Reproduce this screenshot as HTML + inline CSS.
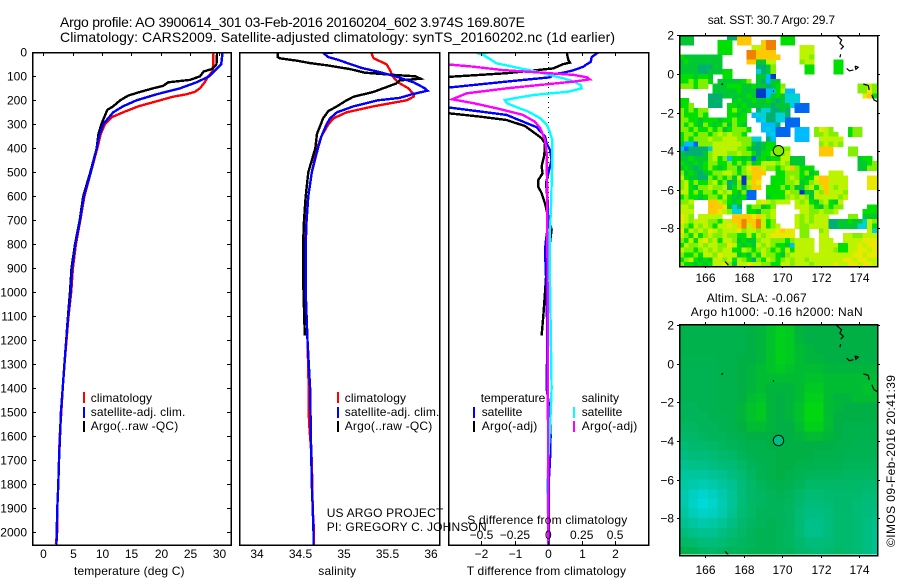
<!DOCTYPE html>
<html lang="en">
<head>
<meta charset="utf-8">
<title>Argo profile 3900614_301</title>
<style>
html,body{margin:0;padding:0;background:#fff;}
#chart{display:block;width:900px;height:580px;}
text{font-family:"Liberation Sans",sans-serif;font-size:12px;fill:#000;}
.title{font-size:14px;}
.box{fill:none;stroke:#000;stroke-width:1.5;shape-rendering:crispEdges;}
.tick{stroke:#000;stroke-width:1.2;shape-rendering:crispEdges;}
.prof{fill:none;stroke-width:2.4;stroke-linejoin:miter;shape-rendering:crispEdges;}
</style>
</head>
<body>
<svg id="chart" xmlns="http://www.w3.org/2000/svg" width="900" height="580" viewBox="0 0 900 580">
  <defs>
    <clipPath id="clipTemp"><rect x="32" y="52" width="199" height="493"/></clipPath>
    <clipPath id="clipSal"><rect x="239.5" y="52" width="200" height="493"/></clipPath>
    <clipPath id="clipDiff"><rect x="448.5" y="52" width="200" height="493"/></clipPath>
    <clipPath id="clipSst"><rect x="679" y="35" width="198.5" height="231"/></clipPath>
    <clipPath id="clipSla"><rect x="679" y="325" width="198.5" height="229.5"/></clipPath>
  </defs>

  <text class="title" x="60" y="27" textLength="465">Argo profile: AO 3900614_301 03-Feb-2016 20160204_602 3.974S 169.807E</text>
  <text class="title" x="60" y="42" textLength="555">Climatology: CARS2009. Satellite-adjusted climatology: synTS_20160202.nc (1d earlier)</text>

  <g id="plots"></g>

  <rect class="box" x="32.5" y="52.5" width="198.5" height="492.5"/>
  <rect class="box" x="239.5" y="52.5" width="200" height="492.5"/>
  <rect class="box" x="448.5" y="52.5" width="200" height="492.5"/>
  <rect class="box" x="679.5" y="35.5" width="198" height="231"/>
  <rect class="box" x="679.5" y="324.5" width="198" height="231"/>

  <g id="ticks"></g>

  <text x="74" y="575" textLength="110.5">temperature (deg C)</text>
  <text x="318.3" y="575" textLength="37.7">salinity</text>
  <text x="466.7" y="575" textLength="159.3">T difference from climatology</text>
  <text x="467.3" y="524" textLength="160">S difference from climatology</text>

  <g>
    <rect x="83" y="392" width="2" height="11" fill="#ff0000"/>
    <rect x="83" y="407" width="2" height="11" fill="#0000ff"/>
    <rect x="83" y="421" width="2" height="11" fill="#000000"/>
    <text x="90.7" y="402" textLength="61.3">climatology</text>
    <text x="90.7" y="416" textLength="94.6">satellite-adj. clim.</text>
    <text x="90.7" y="430" textLength="87.6">Argo(..raw -QC)</text>
  </g>
  <g>
    <rect x="337" y="392" width="2" height="11" fill="#ff0000"/>
    <rect x="337" y="407" width="2" height="11" fill="#0000ff"/>
    <rect x="337" y="421" width="2" height="11" fill="#000000"/>
    <text x="344.7" y="402" textLength="61.3">climatology</text>
    <text x="344.7" y="416" textLength="94.6">satellite-adj. clim.</text>
    <text x="344.7" y="430" textLength="87.6">Argo(..raw -QC)</text>
  </g>
  <g>
    <text x="480.7" y="402" textLength="64.6">temperature</text>
    <text x="581.7" y="402" textLength="37.3">salinity</text>
    <rect x="473" y="407" width="2" height="11" fill="#0000ff"/>
    <rect x="473" y="421" width="2" height="11" fill="#000000"/>
    <rect x="573" y="407" width="2" height="11" fill="#00ffff"/>
    <rect x="573" y="421" width="2" height="11" fill="#ff00ff"/>
    <text x="481.7" y="416" textLength="40.6">satellite</text>
    <text x="481.7" y="430" textLength="55.6">Argo(-adj)</text>
    <text x="581.7" y="416" textLength="40.6">satellite</text>
    <text x="581.7" y="430" textLength="55.6">Argo(-adj)</text>
  </g>

  <text x="326.7" y="517" textLength="116.6">US ARGO PROJECT</text>
  <text x="326.7" y="531" textLength="160">PI: GREGORY C. JOHNSON</text>

  <text x="707.7" y="24" textLength="127.3">sat. SST: 30.7  Argo: 29.7</text>
  <text x="706.7" y="302" textLength="100">Altim. SLA: -0.067</text>
  <text x="690.7" y="316" textLength="172">Argo h1000: -0.16 h2000: NaN</text>
  <text transform="translate(895,547) rotate(-90)" textLength="172">©IMOS 09-Feb-2016 20:41:39</text>
</svg>

<script>
// ---------- profile data ----------
const deepDepths = [500,600,700,800,900,1000,1100,1200,1300,1400,1500,1600,1700,1800,1900,2000,2050];

const tempClimDepths = [0,50,80,100,125,150,165,175,185,200,225,250,270,300,340,400];
const tempClimValues = [29.0,28.95,28.8,28.1,27.5,26.7,25.8,24.4,22.1,19.9,16.2,13.6,11.7,10.5,9.8,9.2];
const tempClimDeep = [8.1,7.0,6.3,5.55,5.05,4.75,4.3,3.95,3.62,3.3,3.07,2.8,2.68,2.56,2.39,2.35,2.15];

const tempSatDepths = [0,50,100,125,150,175,200,225,250,300,350,400];
const tempSatValues = [30.55,30.3,28.3,26.1,23.3,19.3,15.9,13.6,11.9,10.2,9.5,9.1];
const tempSatDeep = [8.1,6.9,6.25,5.45,4.9,4.67,4.25,3.9,3.6,3.3,3.0,2.85,2.68,2.56,2.39,2.28,2.25];

const tempArgoDepths = [0,50,70,80,100,115,125,140,150,165,180,200,225,240,275,300,340,400,500,600,700,800,900,1000,1100,1180];
const tempArgoValues = [29.6,29.5,28.7,27.3,26.7,25,21.3,20.4,18.7,16.5,14.5,13.1,11.9,10.9,10.3,9.9,9.4,9.1,8.0,6.8,6.2,5.4,4.8,4.55,4.2,3.95];

const salClimDepths = [0,25,50,75,100,125,150,175,185,200,225,250,275,300,350,400,500,600,700,800,1000,1200,1400,1500,1550,1700,1900,2000,2050];
const salClimValues = [35.31,35.34,35.49,35.53,35.56,35.62,35.74,35.8,35.8,35.72,35.34,35.03,34.88,34.82,34.74,34.69,34.63,34.59,34.56,34.56,34.56,34.58,34.594,34.594,34.6,34.63,34.64,34.655,34.655];

const salSatDepths = [0,2,20,30,65,80,100,125,150,160,175,190,200,225,250,275,300,350,400,500,600,700,800,1000,1200,1400,1600,1800,1900,2000,2050];
const salSatValues = [34.99,34.76,34.82,34.92,35.2,35.38,35.59,35.8,35.93,35.96,35.78,35.64,35.39,35.11,34.92,34.84,34.8,34.74,34.7,34.63,34.59,34.57,34.56,34.56,34.58,34.61,34.62,34.63,34.64,34.65,34.65];

const salArgoDepths = [0,20,25,35,45,55,70,85,95,100,110,117,130,150,165,185,200,225,245,275,340,400,500,600,700,800,900,1000,1180];
const salArgoValues = [34.24,34.24,34.26,34.46,34.61,34.82,35.07,35.24,35.6,35.82,35.88,35.64,35.6,35.45,35.34,35.11,35.03,34.92,34.82,34.76,34.69,34.67,34.59,34.56,34.54,34.53,34.53,34.535,34.55];

const diffTSatDepths = [0,20,40,50,60,75,85,90,104,122,150,226,261,312,351,379,407,449,504,546,615,712,782,824,1000,1200,1400,1500,1600,1700,1800,2050];
const diffTSatValues = [1.5,1.3,1.27,1.15,1.05,0.75,0.45,0.2,0.05,-1.25,-3.2,-3.2,-1.25,-0.35,-0.1,-0.05,0.05,0.1,0,-0.07,-0.02,0,-0.07,-0.1,-0.05,-0.03,-0.05,0.05,0.07,0.05,0.01,0.01];

const diffTArgoDepths = [0,32,43,49,67,76,87,94,104,251,268,282,307,337,358,379,428,476,504,532,560,587,629,671,740,900,1000,1100,1180];
const diffTArgoValues = [0.55,0.6,0.65,0.45,0.15,-0.45,-1.25,-2.05,-3.2,-3.2,-2.05,-1.25,-0.7,-0.4,-0.2,-0.1,-0.12,-0.2,-0.17,-0.3,-0.3,-0.2,-0.1,-0.03,0.1,-0.05,-0.1,-0.15,-0.2];

const diffSSatDepths = [0,2,10,32,46,53,67,80,94,108,122,136,150,164,178,192,199,212,226,247,275,303,330,365,450,643,782,850,1400,1500,1600,1700,1800,1900,2050];
const diffSSatValues = [-0.35,-0.54,-0.49,-0.425,-0.39,-0.325,-0.21,-0.09,0.01,0.11,0.19,0.24,0.25,0.15,-0.11,-0.26,-0.325,-0.31,-0.25,-0.15,-0.06,-0.01,0.01,0.03,0.03,0.02,0.01,0.01,0.025,0.018,0.008,0,-0.008,-0.003,0];

const diffSArgoDepths = [0,50,60,74,87,94,104,113,122,136,150,171,196,212,233,261,289,317,365,421,600,1000,2050];
const diffSArgoValues = [-1.1,-0.76,-0.56,-0.34,0.01,0.19,0.29,0.31,0.19,-0.06,-0.31,-0.61,-0.72,-0.56,-0.39,-0.19,-0.1,-0.06,-0.025,-0.012,-0.008,-0.005,0];

// ---------- tick values ----------
const depthTicks = [0,100,200,300,400,500,600,700,800,900,1000,1100,1200,1300,1400,1500,1600,1700,1800,1900,2000];
const tempTicks = [0,5,10,15,20,25,30];
const salTicks = [34,34.5,35,35.5,36];
const diffTTicks = [-2,-1,0,1,2];
const diffSTicks = [-0.5,-0.25,0,0.25,0.5];
const lonTicks = [166,168,170,172,174];
const latTicks = [2,0,-2,-4,-6,-8];

// ---------- SST map: colour level per 0.25 degree cell, north to south (0 = no data) ----------
const sstRows = [
[6,6,6,0,0,0,0,0,0,0,5,5,11,11,11,0,0,0,0,0,0,7,7,7],
[6,6,6,0,0,0,0,0,7,7,7,0,11,11,11,0,0,11,12,12,0,7,7,7],
[0,0,0,0,0,0,0,0,7,7,7,0,0,0,0,9,9,11,12,12,0,0,0,0,0,9,9,9],
[0,0,0,0,0,0,0,0,7,7,7,0,0,0,12,12,11,11,11,11,0,0,0,0,0,9,9,9],
[7,6,6,6,6,6,6,6,6,0,0,0,0,0,12,12,11,11,11,11,11,0,0,0,0,9,9,8],
[6,7,6,6,6,6,6,6,6,0,0,0,0,0,11,11,6,6,9,9,0,0,0,0,0,8,9,9,0,0,0,0,7,7],
[6,6,6,6,5,5,5,6,6,0,0,0,0,0,0,0,5,5,6,8,0,0,0,0,0,0,7,7,0,0,0,0,7,7],
[6,6,6,6,5,5,6,6,6,7,7,0,0,0,0,0,4,5,6,8,0,0,0,0,0,0,7,7,0,0,0,0,7,7],
[7,7,7,6,7,7,6,0,0,7,7,0,0,0,0,0,6,6,3,1],
[7,7,8,7,8,8,7,0,6,6,6,6,6,7,8,0,6,5,3,6,6],
[8,8,8,7,8,8,0,6,6,6,7,7,7,6,6,7,6,6,5,6,7,8,0,0,0,0,0,0,0,0,0,0,0,0,0,0,0,8,8,9,8],
[0,0,0,0,0,0,0,6,6,6,6,6,7,6,6,6,1,1,3,3,7,9,3,3,0,0,0,0,0,0,0,0,0,0,0,0,0,8,8,10,8],
[0,0,0,0,0,0,5,5,5,6,6,6,6,6,7,6,1,1,3,6,7,6,4,4,4,0,0,0,0,0,0,0,0,0,0,0,0,0,10,11,7],
[7,7,0,0,0,0,5,5,5,0,0,6,7,6,6,7,6,6,7,6,5,6,4,4,4],
[7,7,8,0,0,0,5,5,5,0,7,7,6,7,6,6,6,6,6,5,6,6,6,4,2,2,2],
[8,7,8,7,8,8,0,0,0,0,7,8,7,6,7,0,5,4,4,5,5,6,5,0,2,2,2],
[8,7,7,7,8,7,0,0,0,0,7,7,6,7,0,3,4,4,5,5,4,4,5],
[8,8,7,7,6,7,7,7,6,7,7,8,7,7,0,0,3,4,5,5,4,4,2,2,2],
[8,7,8,7,6,8,7,6,7,8,6,8,7,6,0,0,0,3,3,3,5,0,2,2,2],
[8,8,7,8,7,7,8,7,8,6,7,8,8,8,7,0,0,3,4,3,2,2,2,0,3,3,3,0,8,10,9,8,0,0,0,7,8,8],
[7,8,8,7,8,8,7,8,9,8,9,8,8,7,0,0,0,0,3,4,2,2,2,0,3,3,3,0,8,8,9,8,8,0,0,7,8,8],
[7,8,7,8,8,8,9,8,8,9,9,9,8,8,8,4,4,0,5,3,0,0,0,0,3,3,3,0,0,9,9,9,9,9],
[6,3,3,2,8,8,8,9,9,9,9,9,9,8,8,6,5,6,7,7,0,0,0,0,0,0,0,0,0,8,9,8,9,8],
[3,2,5,5,5,5,4,9,9,9,9,9,8,8,7,5,5,6,7,7,8,8,8,0,0,0,0,0,0,11,11,11,0,0,0,8,8],
[6,5,5,5,5,6,8,9,9,9,8,8,9,8,8,7,5,7,7,8,8,8,9,0,0,0,0,0,0,11,11,11,0,0,0,8,8],
[6,6,7,6,6,6,8,9,7,8,3,7,7,6,7,2,6,7,6,7,7,9,9,6,6,6,0,0,0,0,0,0,0,0,0,0,0,6,7,7],
[7,6,6,7,6,7,8,8,7,7,8,7,8,7,8,6,7,9,9,9,8,9,8,6,6,6,0,0,0,0,0,0,0,0,0,0,0,6,6,7,8],
[6,7,6,5,6,7,8,7,6,7,8,8,6,8,10,11,11,9,8,8,7,8,9,11,8,7,7,7,0,0,0,0,0,0,0,0,0,6,6,8,8],
[8,6,7,6,5,6,7,8,8,9,9,8,7,8,9,11,11,11,0,0,7,7,8,8,8,7,8,6,7,0,0,9,9,9],
[9,7,6,6,5,5,8,7,8,7,8,6,9,1,8,11,11,0,0,7,7,7,8,9,8,7,6,7,10,11,11,9,9,9,9,0,0,0,0,10,10],
[8,9,7,8,7,7,8,9,7,8,5,6,8,1,9,11,10,0,0,7,7,7,8,8,9,6,7,8,9,11,11,9,9,9,9,0,0,0,0,10,10],
[8,9,7,6,8,8,9,8,8,9,5,7,8,6,8,11,11,0,7,7,7,8,7,8,6,6,8,9,7,9,11,9,8,9,9,0,0,0,0,10,10],
[9,9,7,8,7,8,8,7,9,8,9,7,6,8,2,2,0,0,7,7,7,7,9,8,8,1,6,6,9,8,11,9,9,9,8],
[7,8,7,7,6,7,8,8,7,9,7,6,6,7,2,2,0,0,6,7,7,7,8,9,8,9,8,6,9,9,9,9,9,8,9],
[8,8,9,0,0,0,11,11,9,8,7,6,7,0,0,0,9,10,9,8,9,9,9,0,9,8,9,7,6,8,9,7,6,9],
[9,9,8,0,0,0,11,11,11,10,6,4,5,0,7,8,8,6,7,8,0,0,0,0,9,9,9,8,7,6,8,7,8,8,0,0,0,0,0,7,7],
[9,9,9,0,0,0,11,11,10,9,8,4,4,0,7,7,6,8,8,9,0,0,0,0,0,9,9,8,8,9,8,8,9,0,0,0,0,0,7,7,7],
[10,9,8,0,9,9,9,9,9,0,0,11,11,11,11,10,11,9,8,9,0,0,0,0,9,8,9,8,9,9,9,0,0,0,0,8,8,0,6,6,6],
[10,9,8,9,9,9,8,8,7,9,9,11,11,12,11,11,12,9,7,8,0,0,0,0,9,8,9,8,9,9,9,5,5,6,6,7,6,6,4,9,8],
[9,8,7,9,8,9,8,7,9,9,10,9,11,12,9,11,12,9,7,8,9,0,0,0,9,8,8,9,9,9,9,5,5,6,6,6,6,4,4,9,7],
[10,7,9,8,9,8,10,9,8,9,9,9,10,8,9,9,8,9,9,9,10,11,10,10,0,8,8,0,0,8,9,0,0,0,0,0,0,0,0,9,4],
[9,8,7,9,7,8,9,8,8,9,8,8,7,7,9,7,9,8,9,10,10,10,10,10,0,8,8,0,0,9,9,0,0,0,9,9,8,8,9,9,9],
[8,7,9,7,9,10,8,9,7,9,9,8,6,7,6,6,8,9,9,8,8,8,7,8,9,9,9,9,0,9,9,9,0,0,9,9,9,9,10,10,10],
[7,9,8,8,9,8,9,9,8,8,10,9,7,6,7,6,9,8,9,8,7,7,6,3,9,9,9,9,0,9,9,9,9,7,7,9,9,10,9,10,10],
[9,8,8,7,8,9,8,9,8,9,9,7,7,9,8,7,8,9,8,7,8,7,9,7,9,9,9,9,0,9,9,9,8,7,7,9,9,10,10,9,10],
[8,7,7,8,7,9,9,8,10,9,9,9,6,7,6,8,7,9,8,8,7,6,8,9,9,9,9,9,9,9,9,9,9,9,9,9,10,10,9,10,10],
[7,8,9,7,6,7,6,9,9,8,9,7,9,8,7,5,8,7,9,8,7,8,9,8,9,9,8,9,9,9,9,9,9,9,10,10,9,10,10,9,9],
[8,7,7,6,7,6,7,9,9,10,8,6,9,9,10,9,9,8,8,7,7,9,9,8,9,9,9,8,9,9,9,9,10,9,9,10,10,9,10,10,9]
];

// ---------- SLA map: sea level anomaly (m) per 0.5 degree cell, north to south ----------
const slaRows = [
[-.08,-.08,-.08,-.08,-.08,-.08,-.08,-.07,-.06,-.04,-.02,-.03,-.06,-.07,-.07,-.07,-.07,-.07,-.07,-.07,-.07],
[-.08,-.08,-.08,-.08,-.08,-.08,-.08,-.07,-.06,-.04,-.02,-.03,-.06,-.07,-.07,-.07,-.07,-.07,-.07,-.07,-.07],
[-.08,-.08,-.08,-.08,-.08,-.08,-.08,-.07,-.06,-.04,-.02,-.03,-.05,-.06,-.07,-.07,-.07,-.07,-.07,-.07,-.07],
[-.085,-.085,-.085,-.085,-.08,-.08,-.07,-.07,-.06,-.04,-.02,-.03,-.05,-.06,-.06,-.07,-.07,-.07,-.07,-.07,-.07],
[-.09,-.09,-.09,-.09,-.08,-.08,-.07,-.06,-.05,-.04,-.03,-.04,-.05,-.05,-.05,-.06,-.06,-.06,-.06,-.06,-.06],
[-.09,-.09,-.09,-.09,-.08,-.08,-.07,-.06,-.05,-.05,-.05,-.05,-.05,-.04,-.04,-.05,-.05,-.05,-.05,-.05,-.05],
[-.09,-.09,-.09,-.09,-.08,-.08,-.07,-.06,-.05,-.06,-.06,-.06,-.05,-.03,-.03,-.05,-.05,-.05,-.05,-.04,-.04],
[-.09,-.09,-.09,-.09,-.08,-.08,-.07,-.05,-.04,-.06,-.07,-.06,-.05,-.02,-.02,-.05,-.06,-.06,-.05,-.05,-.05],
[-.1,-.1,-.09,-.09,-.08,-.08,-.06,-.04,-.03,-.06,-.07,-.06,-.04,-.01,-.01,-.05,-.06,-.07,-.07,-.07,-.07],
[-.1,-.1,-.1,-.09,-.09,-.08,-.06,-.04,-.03,-.06,-.07,-.06,-.04,-.01,-.01,-.05,-.07,-.07,-.07,-.07,-.07],
[-.11,-.11,-.1,-.1,-.09,-.08,-.07,-.05,-.05,-.06,-.07,-.07,-.05,-.02,-.02,-.05,-.07,-.08,-.08,-.08,-.08],
[-.12,-.12,-.11,-.1,-.1,-.09,-.08,-.07,-.07,-.07,-.07,-.07,-.06,-.05,-.05,-.06,-.07,-.08,-.08,-.08,-.08],
[-.14,-.13,-.13,-.12,-.11,-.1,-.09,-.08,-.08,-.07,-.07,-.07,-.07,-.07,-.07,-.07,-.08,-.08,-.09,-.09,-.09],
[-.16,-.15,-.15,-.14,-.13,-.12,-.1,-.09,-.08,-.08,-.07,-.07,-.07,-.07,-.08,-.08,-.08,-.09,-.09,-.09,-.09],
[-.18,-.17,-.17,-.16,-.15,-.14,-.12,-.1,-.09,-.08,-.07,-.07,-.08,-.08,-.09,-.09,-.09,-.1,-.1,-.1,-.1],
[-.2,-.2,-.2,-.19,-.18,-.16,-.14,-.11,-.09,-.08,-.07,-.08,-.09,-.1,-.1,-.1,-.1,-.11,-.11,-.11,-.11],
[-.21,-.22,-.23,-.22,-.2,-.18,-.15,-.12,-.1,-.09,-.08,-.09,-.1,-.12,-.12,-.12,-.12,-.12,-.12,-.13,-.13],
[-.22,-.25,-.27,-.25,-.22,-.19,-.15,-.12,-.11,-.1,-.09,-.1,-.12,-.14,-.14,-.13,-.13,-.13,-.13,-.14,-.14],
[-.22,-.26,-.29,-.27,-.23,-.19,-.15,-.12,-.11,-.1,-.1,-.11,-.13,-.15,-.15,-.14,-.13,-.13,-.14,-.15,-.15],
[-.2,-.24,-.26,-.25,-.22,-.18,-.14,-.12,-.1,-.1,-.1,-.11,-.14,-.16,-.16,-.15,-.13,-.13,-.14,-.15,-.16],
[-.18,-.2,-.22,-.21,-.19,-.16,-.13,-.11,-.1,-.09,-.1,-.11,-.14,-.17,-.17,-.15,-.13,-.13,-.14,-.16,-.17],
[-.15,-.17,-.18,-.18,-.16,-.14,-.12,-.1,-.09,-.09,-.1,-.11,-.14,-.17,-.17,-.15,-.13,-.13,-.14,-.16,-.18],
[-.12,-.13,-.15,-.15,-.14,-.12,-.11,-.1,-.09,-.09,-.1,-.11,-.13,-.15,-.15,-.14,-.13,-.13,-.14,-.16,-.18],
[-.08,-.09,-.11,-.12,-.11,-.1,-.1,-.09,-.09,-.09,-.1,-.1,-.12,-.13,-.14,-.13,-.12,-.13,-.14,-.16,-.18]
];

// ---------- coastline fragments, lon/lat pairs per fragment ----------
const coastLons = [
[172.82,173.08,172.99,173.17,173.03],[173.03,172.99],[173.34,173.48,173.69],[173.77,173.94,173.82,173.77],
[174.2,174.46,174.51],[174.64,174.76,174.93],[166.92,166.86],[167.04,167.21],[169.54,169.55]];
const coastLats = [
[1.99,1.76,1.59,1.42,1.28],[1.02,.86],[.29,.16,.21],[.41,.35,.24,.41],
[-.52,-.6,-.83],[-1.09,-1.35,-1.43],[-.48,-.57],[-9.72,-9.9],[-.86,-.92]];

const argoLon = [169.807];
const argoLat = [-3.974];
const argoSstLevel = [8];
const argoSlaValue = [-0.16];

// ---------- axis functions ----------
const yDepth = d => 52.3 + d * 0.24;
const xTemp = v => 43.3 + v * 5.87;
const xSal = v => 257 + (v - 34) * 87;
const xDiffT = v => 548.3 + v * 33.4;
const xDiffS = v => 548.3 + v * 133.6;
const xLon = v => 705 + (v - 166) * 19.3;
const yLatSst = v => 74 - v * 19.3;
const yLatSla = v => 363.8 - v * 19.3;

// ---------- colour scales ----------
const sstPalette = [null,'#0038c8','#0068f0','#00bcff','#00d0d8','#00b070','#00c832','#00e000','#80f000','#bcf400','#e8e800','#ffc800','#f08000'];
const slaStops = [-0.30,-0.16,-0.067,0];
const slaGreens = [218,190,176,222];
const slaBlues = [225,130,66,8];
function slaColor(v){
  let i = 0;
  while (i < slaStops.length - 2 && v > slaStops[i + 1]) i++;
  const t = Math.max(0, Math.min(1, (v - slaStops[i]) / (slaStops[i + 1] - slaStops[i])));
  const g = Math.round(slaGreens[i] + (slaGreens[i + 1] - slaGreens[i]) * t);
  const b = Math.round(slaBlues[i] + (slaBlues[i + 1] - slaBlues[i]) * t);
  return 'rgb(0,' + g + ',' + b + ')';
}

// ---------- drawing helpers ----------
const NS = 'http://www.w3.org/2000/svg';
const plots = document.getElementById('plots');
const ticks = document.getElementById('ticks');

function drawProfile(name, depths, values, xFn, color, clip){
  const line = document.createElementNS(NS, 'polyline');
  
  
  line.setAttribute('class', 'prof');
  line.setAttribute('stroke', color);
  line.setAttribute('clip-path', 'url(#' + clip + ')');
  line.setAttribute('points', depths.map((d, i) => xFn(values[i]).toFixed(1) + ',' + yDepth(d).toFixed(1)).join(' '));
  plots.appendChild(line);
}
function drawTick(x1, y1, x2, y2){
  const t = document.createElementNS(NS, 'line');
  
  
  t.setAttribute('class', 'tick');
  t.setAttribute('x1', x1);
  t.setAttribute('y1', y1);
  t.setAttribute('x2', x2);
  t.setAttribute('y2', y2);
  ticks.appendChild(t);
}
function drawLabel(str, x, y, anchor){
  const t = document.createElementNS(NS, 'text');
  
  
  t.setAttribute('x', x);
  t.setAttribute('y', y);
  t.setAttribute('text-anchor', anchor);
  t.textContent = str;
  ticks.appendChild(t);
}
const fmt = v => String(v).replace('-', '\u2212');

function drawCell(name, x0, y0, x1, y1, color, clip){
  const r = document.createElementNS(NS, 'rect');
  
  
  r.setAttribute('x', x0.toFixed(1));
  r.setAttribute('y', y0.toFixed(1));
  r.setAttribute('width', (x1 - x0 + 0.4).toFixed(1));
  r.setAttribute('height', (y1 - y0 + 0.4).toFixed(1));
  r.setAttribute('fill', color);
  r.setAttribute('clip-path', 'url(#' + clip + ')');
  r.setAttribute('shape-rendering', 'crispEdges');
  plots.appendChild(r);
}

// ---------- maps ----------
sstRows.forEach((row, r) => {
  row.forEach((level, c) => {
    if (!level) return;
    const lonW = 164.65 + c * 0.25;
    const latN = 2 - r * 0.25;
    drawCell('sst-cell', xLon(lonW), yLatSst(latN), xLon(lonW + 0.25), yLatSst(latN - 0.25), sstPalette[level], 'clipSst');
  });
});
slaRows.forEach((row, r) => {
  row.forEach((v, c) => {
    const lonW = 164.65 + c * 0.5;
    const latN = 2 - r * 0.5;
    drawCell('sla-cell', xLon(lonW), yLatSla(latN), xLon(lonW + 0.5), yLatSla(latN - 0.5), slaColor(v), 'clipSla');
  });
});
function drawCoast(yFn, clip){
  coastLons.forEach((lons, k) => {
    const p = document.createElementNS(NS, 'polyline');
    
    
    p.setAttribute('fill', 'none');
    p.setAttribute('stroke', '#000');
    p.setAttribute('stroke-width', '1.2');
    p.setAttribute('clip-path', 'url(#' + clip + ')');
    p.setAttribute('points', lons.map((l, i) => xLon(l).toFixed(1) + ',' + yFn(coastLats[k][i]).toFixed(1)).join(' '));
    plots.appendChild(p);
  });
}
drawCoast(yLatSst, 'clipSst');
drawCoast(yLatSla, 'clipSla');
function drawArgoMarker(name, yFn, color){
  const c = document.createElementNS(NS, 'circle');
  
  
  c.setAttribute('cx', xLon(argoLon[0]));
  c.setAttribute('cy', yFn(argoLat[0]));
  c.setAttribute('r', '5.2');
  c.setAttribute('fill', color);
  c.setAttribute('stroke', '#000');
  c.setAttribute('stroke-width', '1');
  plots.appendChild(c);
}
drawArgoMarker('argo-marker-sst', yLatSst, sstPalette[argoSstLevel[0]]);
drawArgoMarker('argo-marker-sla', yLatSla, slaColor(argoSlaValue[0]));

// ---------- profile panels ----------
const allTempClim = tempClimValues.concat(tempClimDeep);
const allTempSat = tempSatValues.concat(tempSatDeep);
drawProfile('temperature-climatology-line', tempClimDepths.concat(deepDepths), allTempClim, xTemp, '#ff0000', 'clipTemp');
drawProfile('temperature-argo-line', tempArgoDepths, tempArgoValues, xTemp, '#000000', 'clipTemp');
drawProfile('temperature-satellite-line', tempSatDepths.concat(deepDepths), allTempSat, xTemp, '#0000ff', 'clipTemp');

drawProfile('salinity-climatology-line', salClimDepths, salClimValues, xSal, '#ff0000', 'clipSal');
drawProfile('salinity-argo-line', salArgoDepths, salArgoValues, xSal, '#000000', 'clipSal');
drawProfile('salinity-satellite-line', salSatDepths, salSatValues, xSal, '#0000ff', 'clipSal');

// zero reference in difference panel
const zeroLine = document.createElementNS(NS, 'line');


zeroLine.setAttribute('x1', xDiffT(0));
zeroLine.setAttribute('x2', xDiffT(0));
zeroLine.setAttribute('y1', 52);
zeroLine.setAttribute('y2', 545);
zeroLine.setAttribute('stroke', '#000');
zeroLine.setAttribute('stroke-width', '1');
zeroLine.setAttribute('stroke-dasharray', '1 4');
zeroLine.setAttribute('shape-rendering', 'crispEdges');
plots.appendChild(zeroLine);

drawProfile('t-difference-argo-line', diffTArgoDepths, diffTArgoValues, xDiffT, '#000000', 'clipDiff');
drawProfile('t-difference-satellite-line', diffTSatDepths, diffTSatValues, xDiffT, '#0000ff', 'clipDiff');
drawProfile('s-difference-satellite-line', diffSSatDepths, diffSSatValues, xDiffS, '#00ffff', 'clipDiff');
drawProfile('s-difference-argo-line', diffSArgoDepths, diffSArgoValues, xDiffS, '#ff00ff', 'clipDiff');

// ---------- ticks and labels ----------
depthTicks.forEach(d => {
  const y = Math.round(yDepth(d)) + 0.5;
  drawTick(32, y, 36, y);
  drawTick(227, y, 231, y);
  drawLabel(String(d), 27, y + 4, 'end');
});
tempTicks.forEach(v => {
  const x = Math.round(xTemp(v)) + 0.5;
  drawTick(x, 52, x, 56);
  drawLabel(String(v), x, 558, 'middle');
});
salTicks.forEach(v => {
  drawLabel(String(v), xSal(v), 558, 'middle');
});
diffTTicks.forEach(v => {
  const x = Math.round(xDiffT(v)) + 0.5;
  drawTick(x, 52, x, 56);
  drawTick(x, 541, x, 545);
  drawLabel(fmt(v), x, 558, 'middle');
});
diffSTicks.forEach(v => {
  drawLabel(fmt(v), xDiffS(v), 539, 'middle');
});
lonTicks.forEach(v => {
  const x = Math.round(xLon(v)) + 0.5;
  drawTick(x, 33, x, 35);
  drawTick(x, 266, x, 268);
  drawLabel(String(v), x, 282, 'middle');
  drawTick(x, 322, x, 325);
  drawTick(x, 556, x, 558);
  drawLabel(String(v), x, 574, 'middle');
});
latTicks.forEach(v => {
  const y1 = Math.round(yLatSst(v)) + 0.5;
  drawTick(677, y1, 679, y1);
  drawTick(878, y1, 880, y1);
  drawLabel(fmt(v), 674, y1 + 4, 'end');
  const y2 = Math.round(yLatSla(v)) + 0.5;
  drawTick(677, y2, 679, y2);
  drawTick(878, y2, 880, y2);
  drawLabel(fmt(v), 674, y2 + 4, 'end');
});
</script>
</body>
</html>
